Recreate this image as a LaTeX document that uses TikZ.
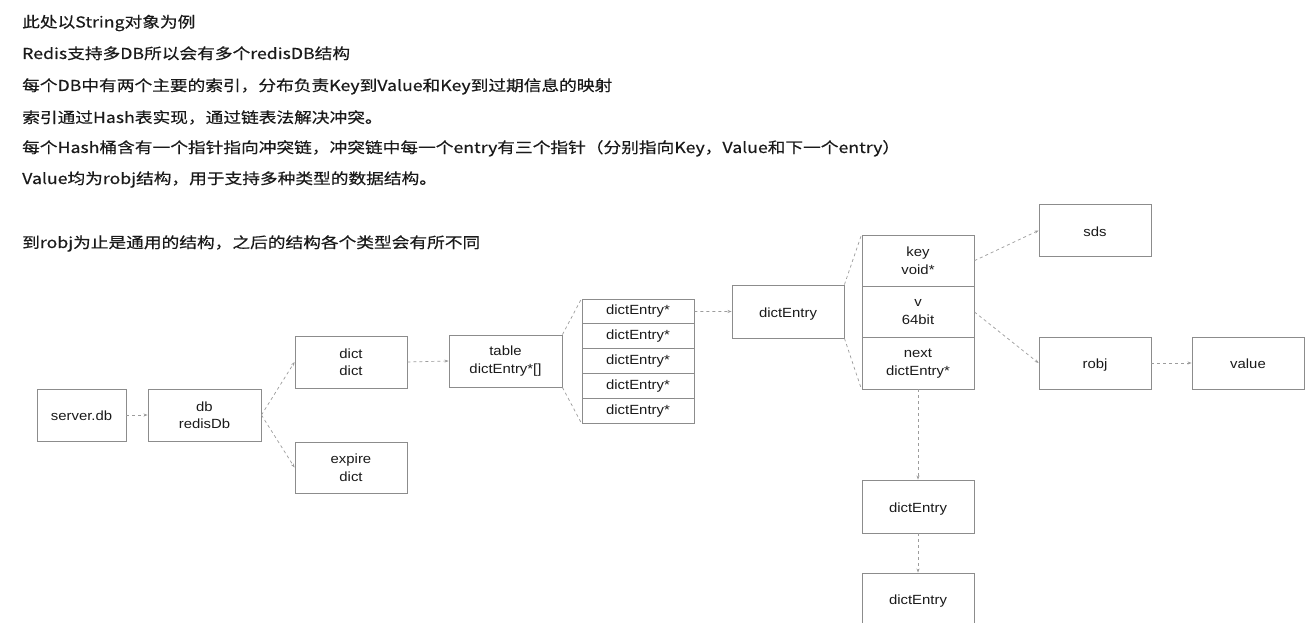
\documentclass[tikz,border=0pt]{standalone}
\usepackage{fontspec}
\newfontfamily\cjk[FakeStretch=1.18,FakeBold=0.4]{Noto Sans CJK SC}
\newfontfamily\boxfont[FakeStretch=1.12]{Liberation Sans}
\usetikzlibrary{arrows.meta}
\definecolor{bordercol}{HTML}{8C8C8C}
\definecolor{linkcol}{HTML}{9C9C9C}
\definecolor{txtcol}{HTML}{1A1A1A}
\begin{document}
\begin{tikzpicture}[x=1pt,y=-1pt,
  hdr/.style={anchor=base west,inner sep=0pt,text=txtcol,font=\cjk\fontsize{15}{18}\selectfont},
  box/.style={draw=bordercol,line width=0.9pt,fill=white,minimum width=112pt,minimum height=52pt,
    inner sep=0pt,align=center,text=txtcol,font=\boxfont\fontsize{13.3}{17.5}\selectfont},
  single/.style={box,text height=11pt,text depth=0pt},
  cell/.style={box,minimum height=24.8pt},
  tri/.style={box,minimum height=51.33pt},
  link/.style={draw=linkcol,line width=0.7pt,dash pattern=on 3pt off 3pt,-{Stealth[length=4pt,width=3pt]}},
  zoomline/.style={draw=linkcol,line width=0.7pt,dash pattern=on 3pt off 3pt}]
\useasboundingbox[fill=white] (0,0) rectangle (1315,623);
% header text
\node[hdr] (t1) at (22,27.5) {此处以String对象为例};
\node[hdr] (t2) at (22,59) {Redis支持多DB所以会有多个redisDB结构};
\node[hdr] (t3) at (22,91) {每个DB中有两个主要的索引，分布负责Key到Value和Key到过期信息的映射};
\node[hdr] (t4) at (22,123) {索引通过Hash表实现，通过链表法解决冲突。};
\node[hdr] (t5) at (22,153) {每个Hash桶含有一个指针指向冲突链，冲突链中每一个entry有三个指针（分别指向Key，Value和下一个entry）};
\node[hdr] (t6) at (22,184) {Value均为robj结构，用于支持多种类型的数据结构。};
\node[hdr] (t7) at (22,248) {到robj为止是通用的结构，之后的结构各个类型会有所不同};
% boxes
\node[single,minimum width=89pt] (srv) at (81.5,415) {server.db};
\node[box,minimum width=113pt] (db) at (204.5,415) {db\\redisDb};
\node[box] (dict) at (351,362) {dict\\dict};
\node[box,minimum height=51pt] (exp) at (351,467.5) {expire\\dict};
\node[box,minimum width=113pt] (tab) at (505.5,361) {table\\dictEntry*[]};
\node[cell] (e1) at (638,311.4) {dictEntry*};
\node[cell] (e2) at (638,336.2) {dictEntry*};
\node[cell] (e3) at (638,361.0) {dictEntry*};
\node[cell] (e4) at (638,385.8) {dictEntry*};
\node[cell] (e5) at (638,410.6) {dictEntry*};
\node[single,minimum height=53pt] (de) at (788,311.5) {dictEntry};
\node[tri] (key) at (918,260.67) {key\\void*};
\node[tri] (v) at (918,312) {v\\64bit};
\node[tri] (nxt) at (918,363.33) {next\\dictEntry*};
\node[single] (sds) at (1095,230.5) {sds};
\node[single] (robj) at (1095,363) {robj};
\node[single] (val) at (1248,363) {value};
\node[single,minimum height=53pt] (de2) at (918,506.5) {dictEntry};
\node[single] (de3) at (918,599) {dictEntry};
% connectors
\draw[link] (srv.east) -- (db.west);
\draw[link] (db.east) -- (dict.west);
\draw[link] (db.east) -- (exp.west);
\draw[link] (dict.east) -- (tab.west);
\draw[zoomline] (tab.north east) -- (e1.north west);
\draw[zoomline] (tab.south east) -- (e5.south west);
\draw[link] (e1.east) -- (de.west);
\draw[zoomline] (de.north east) -- (key.north west);
\draw[zoomline] (de.south east) -- (nxt.south west);
\draw[link] (key.east) -- (sds.west);
\draw[link] (v.east) -- (robj.west);
\draw[link] (robj.east) -- (val.west);
\draw[link] (nxt.south) -- (de2.north);
\draw[link] (de2.south) -- (de3.north);
\end{tikzpicture}
\end{document}
